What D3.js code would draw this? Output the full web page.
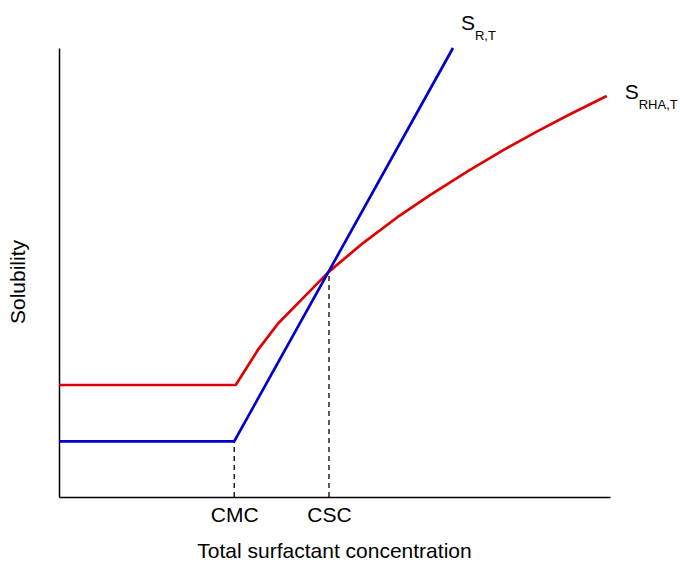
<!DOCTYPE html>
<html>
<head>
<meta charset="utf-8">
<script src="https://cdn.jsdelivr.net/npm/d3@7"></script>
<style>
	body{margin:0;background:#fff;}
	text{font-family:"Liberation Sans", Arial, sans-serif;fill:#000;}
</style>
</head>
<body>
<div id="container"></div>
<script>
// values (arbitrary units, 0-100 on both axes)
const cmc = 31.8;
const csc = 49.0;
const markLabels = ["CMC", "CSC"];

const blueX = [0, 31.8, 71.5];
const blueY = [12.4, 12.4, 100];

const redX = [0, 32.07, 36.17, 39.8, 44.28, 49.0, 55.23, 61.29, 67.33, 74.59, 80.64, 86.7, 92.74, 99.4];
const redY = [24.94, 24.94, 32.89, 38.69, 44.3, 50.2, 56.61, 62.2, 67.24, 72.85, 77.26, 81.38, 85.23, 89.32];

const width = 680;
const height = 563;
const margin = {left: 59, right: 70, top: 48, bottom: 66};

let svg = d3.select("#container").append("svg")
	.attr("width", width)
	.attr("height", height);

let x = d3.scaleLinear().domain([0, 100]).range([margin.left, width - margin.right]);
let y = d3.scaleLinear().domain([0, 100]).range([height - margin.bottom, margin.top]);

let blue = blueX.map((d, i) => [d, blueY[i]]);
let red = redX.map((d, i) => [d, redY[i]]);

let line = d3.line().x(d => x(d[0])).y(d => y(d[1]));

// dashed drop lines
let crossY = (csc - cmc) / (blueX[2] - blueX[1]) * (blueY[2] - blueY[1]) + blueY[1];
let drops = [[cmc, blueY[1]], [csc, crossY]];
svg.append("g").selectAll("line").data(drops).join("line")
	.attr("x1", d => x(d[0])).attr("x2", d => x(d[0]))
	.attr("y1", y(0)).attr("y2", d => y(d[1]))
	.attr("stroke", "#000")
	.attr("stroke-width", 1.3)
	.attr("stroke-dasharray", "5,4");

// axes
let xAxis = svg.append("g")
	.attr("transform", "translate(0," + y(0) + ")")
	.call(d3.axisBottom(x).tickValues([cmc, csc]).tickFormat((d, i) => markLabels[i]).tickSize(0).tickPadding(10).tickSizeOuter(0));
let yAxis = svg.append("g")
	.attr("transform", "translate(" + x(0) + ",0)")
	.call(d3.axisLeft(y).tickValues([]).tickSizeOuter(0));
[xAxis, yAxis].forEach(a => {
	a.select(".domain").attr("stroke", "#000").attr("stroke-width", 1.5);
	a.selectAll("text").style("font-size", "21px").attr("font-family", null);
});

svg.append("path").datum(red)
	.attr("fill", "none").attr("stroke", "#e00000").attr("stroke-width", 2.7)
	.attr("stroke-linejoin", "round")
	.attr("d", line);
svg.append("path").datum(blue)
	.attr("fill", "none").attr("stroke", "#0000cc").attr("stroke-width", 2.7)
	.attr("stroke-linejoin", "round")
	.attr("d", line);

// series labels with subscripts
function seriesLabel(pt, dx, dy, sub){
	let t = svg.append("text")
		.attr("x", x(pt[0]) + dx)
		.attr("y", y(pt[1]) + dy)
		.style("font-size", "21px");
	t.append("tspan").text("S");
	t.append("tspan").attr("dy", 10).style("font-size", "13px").text(sub);
}
seriesLabel(blue[blue.length - 1], 8, -18, "R,T");
seriesLabel(red[red.length - 1], 18, 3, "RHA,T");

// axis titles
svg.append("text")
	.attr("x", (x(0) + x(100)) / 2)
	.attr("y", 558)
	.attr("text-anchor", "middle")
	.style("font-size", "21px")
	.text("Total surfactant concentration");
svg.append("text")
	.attr("transform", "translate(25," + 282 + ") rotate(-90)")
	.attr("text-anchor", "middle")
	.style("font-size", "21px")
	.text("Solubility");
</script>
</body>
</html>
